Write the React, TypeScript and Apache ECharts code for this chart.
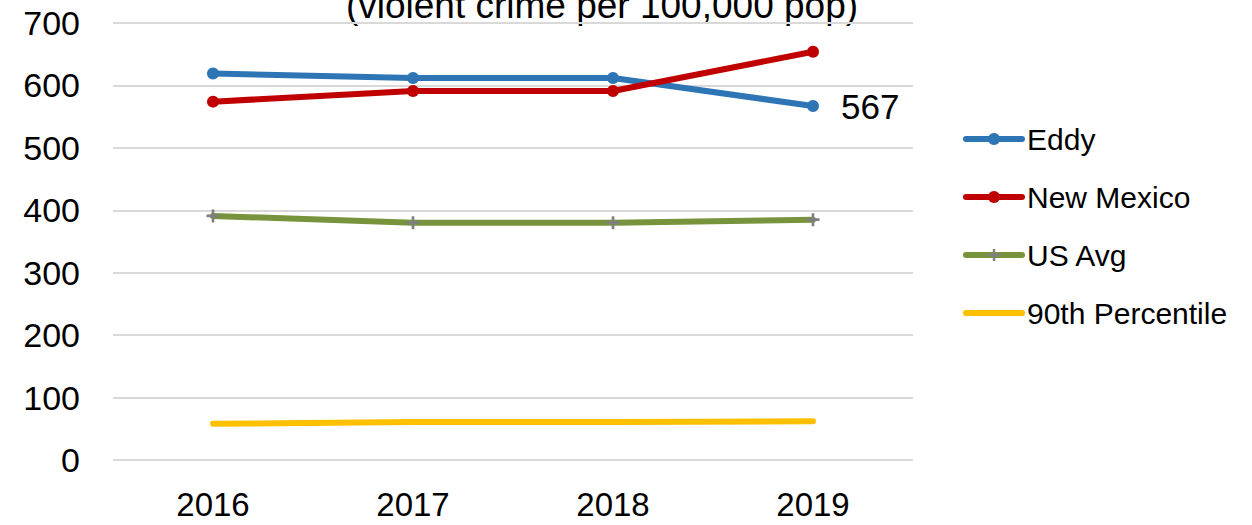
import React, { useEffect, useRef } from "react";
import * as echarts from "echarts";

const years = ["2016", "2017", "2018", "2019"];
const eddy = [619, 612, 612, 567];
const newMexico = [574, 591, 591, 654];
const usAvg = [391, 380, 380, 385];
const pct90 = [58, 61, 61, 62];
const yTicks = { min: 0, max: 700, interval: 100 };
const titleText = "(violent crime per 100,000 pop)";

const FONT = "Liberation Sans, Arial, sans-serif";
const PLUS = "path://M4,0H6V4H10V6H6V10H4V6H0V4H4Z";

export default function App() {
  const ref = useRef<HTMLDivElement>(null);
  useEffect(() => {
    const chart = echarts.init(ref.current!, null, { renderer: "svg" });
    const lineStyle = (color: string) => ({ color, width: 6, cap: "round" as const, join: "round" as const });
    chart.setOption({
      animation: false,
      textStyle: { fontFamily: FONT },
      graphic: [
        {
          type: "text",
          x: 602,
          y: 24,
          style: {
            text: titleText,
            fontSize: 37,
            fontFamily: FONT,
            fill: "#000",
            textAlign: "center",
            textVerticalAlign: "bottom",
          },
        },
      ],
      grid: { left: 113, right: 339, top: 23, bottom: 65 },
      legend: {
        orient: "vertical",
        left: 958,
        top: 119,
        itemWidth: 56,
        itemHeight: 15,
        itemGap: 28,
        lineStyle: { width: 6, cap: "round" },
        textStyle: { fontSize: 30, color: "#000", fontFamily: FONT },
        data: [
          "Eddy",
          "New Mexico",
          "US Avg",
          { name: "90th Percentile", itemStyle: { opacity: 0 } },
        ],
      },
      xAxis: {
        type: "category",
        data: years,
        boundaryGap: true,
        axisLine: { show: false },
        axisTick: { show: false },
        axisLabel: { fontSize: 33, color: "#000", margin: 28, fontFamily: FONT },
      },
      yAxis: {
        type: "value",
        min: yTicks.min,
        max: yTicks.max,
        interval: yTicks.interval,
        axisLine: { show: false },
        axisTick: { show: false },
        axisLabel: { fontSize: 34, color: "#000", margin: 33, fontFamily: FONT },
        splitLine: { lineStyle: { color: "#D9D9D9", width: 2 } },
      },
      series: [
        {
          name: "Eddy",
          type: "line",
          data: eddy.map((v, i) =>
            i === eddy.length - 1
              ? { value: v, label: { show: true, position: "right", distance: 22, fontSize: 35, color: "#000", fontFamily: FONT } }
              : v
          ),
          symbol: "circle",
          symbolSize: 12,
          itemStyle: { color: "#2E75B6" },
          lineStyle: lineStyle("#2E75B6"),
        },
        {
          name: "New Mexico",
          type: "line",
          data: newMexico,
          symbol: "circle",
          symbolSize: 12,
          itemStyle: { color: "#C00000" },
          lineStyle: lineStyle("#C00000"),
        },
        {
          name: "US Avg",
          type: "line",
          data: usAvg,
          symbol: PLUS,
          symbolSize: 13,
          itemStyle: { color: "#7F7F7F" },
          lineStyle: lineStyle("#77933C"),
        },
        {
          name: "90th Percentile",
          type: "line",
          data: pct90,
          symbol: "none",
          itemStyle: { color: "#FFC000" },
          lineStyle: lineStyle("#FFC000"),
        },
      ],
    });
    return () => chart.dispose();
  }, []);
  return (
    <div
      ref={ref}
      style={{ position: "fixed", left: 0, top: 0, width: 1252, height: 525, background: "#fff" }}
    />
  );
}
